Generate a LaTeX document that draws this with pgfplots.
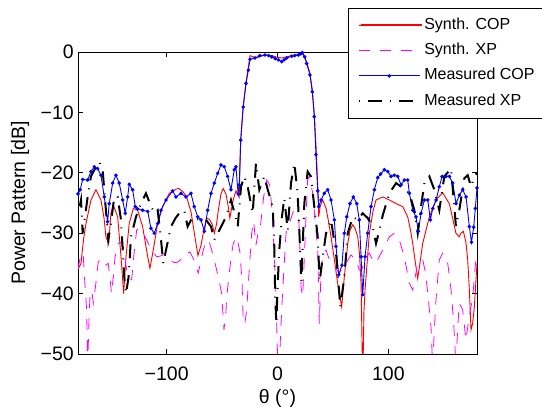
\documentclass[border=0pt]{standalone}
\usepackage{fontspec}
\setmainfont{Liberation Sans}
\usepackage{pgfplots}
\pgfplotsset{compat=1.18}
\definecolor{cRed}{RGB}{255,0,0}
\definecolor{cMag}{RGB}{255,0,255}
\definecolor{cBlue}{RGB}{0,0,255}

\begin{document}
\begin{tikzpicture}
\begin{axis}[
  width=399pt, height=302pt, scale only axis,
  xmin=-180, xmax=180, ymin=-50, ymax=0,
  xtick={-100,0,100}, xticklabels={−100,0,100},
  ytick={-50,-40,-30,-20,-10,0}, yticklabels={−50,−40,−30,−20,−10,0},
  tick align=inside, major tick length=5pt,
  axis line style={line width=0.8pt},
  every tick/.style={black, line width=0.6pt},
  ticklabel style={font=\fontsize{19.5}{22}\selectfont},
  xticklabel style={anchor=base, yshift=-27pt},
  yticklabel style={anchor=east, inner sep=0pt, xshift=-4pt},
  xlabel={θ (°)}, ylabel={Power Pattern [dB]},
  every axis x label/.style={at={(axis description cs:0.5,0)}, anchor=center, yshift=-44pt,
    font=\fontsize{19.5}{22}\selectfont},
  every axis y label/.style={at={(axis description cs:0,0.5)}, rotate=90, anchor=center, yshift=58pt,
    font=\fontsize{19.5}{22}\selectfont},
  legend image code/.code={\draw[#1,mark repeat=2,mark phase=2] plot coordinates {(0pt,0pt) (30.5pt,0pt) (61pt,0pt)};},
  legend style={at={(0.677,1.146)}, anchor=north west, name=leg,
    draw=none, fill=white,
    inner xsep=9.5pt, inner ysep=5.5pt, row sep=2.4pt,
    font=\fontsize{16}{19}\selectfont,
    nodes={inner sep=3.5pt, text height=12pt, text depth=4pt}},
  legend cell align=left,
]
% Synth. COP
\addplot[color=cRed, draw=cRed, line width=0.9pt] coordinates {
(-180,-36) (-177.3,-35.0) (-175,-31) (-172.8,-28.4) (-168.3,-24.5) (-163.8,-22.8)
(-159.3,-24.5) (-156.5,-27.5) (-154.8,-30.6) (-152.3,-31.7) (-150.3,-26.7) (-148.2,-25.3)
(-144.2,-27.3) (-141.2,-33.9) (-138.8,-40.0) (-136.7,-33.9) (-133.8,-28.4) (-130.1,-25.9)
(-126.2,-26.2) (-121.7,-28.9) (-117.1,-33.9) (-115.1,-35.8) (-112.1,-32.8) (-108.1,-28.4)
(-103.6,-25.6) (-97.6,-23.4) (-91.6,-22.7) (-89,-22.6) (-85,-23.2) (-82,-24) (-78,-26.5)
(-74.5,-30.6) (-71.8,-33.7) (-69,-32) (-67,-30) (-64,-27.5) (-61.5,-27.7) (-59,-28.5)
(-57,-30.0) (-55,-28.5) (-53.4,-26.2) (-51,-23.5) (-49,-22.6) (-46.5,-23.5) (-44.5,-25.5)
(-43,-27.5) (-41.5,-26) (-40,-24.5) (-37.5,-23) (-35.5,-23.6) (-34.6,-24) (-34,-20)
(-33.2,-14.6) (-31,-9) (-28.4,-5) (-26.3,-2.5) (-24.8,-0.6) (-22,-0.8) (-18,-0.9)
(-11,-0.5) (-5,-0.6) (0,-0.9) (4,-1.0) (8,-0.8) (13,-0.6) (19,-0.4) (22.4,-0.1)
(26,-1.5) (29.3,-3.5) (31.4,-6.3) (33.2,-10.2) (35.0,-16.5) (36.5,-23) (37.2,-27.3)
(38.5,-25.5) (40.8,-24.5) (43.8,-25.9) (46,-28) (48.3,-30.6) (51,-34) (54.3,-38.3)
(57.9,-42.2) (60.3,-37.2) (63.4,-31.7) (65.5,-29.5) (67.9,-28.6) (70,-29.2) (72.4,-30.6)
(74,-33.5) (75.4,-38.3) (76.9,-55) (78,-43) (79,-39.4) (82.9,-30.0) (86,-26.5) (88.9,-24.5)
(95,-24.0) (100.9,-24.5) (107,-25.1) (113,-25.6) (117.5,-27.3) (120,-29.5) (122,-31.7)
(124.5,-35) (126.5,-37.5) (128.5,-35) (131,-31.7) (137,-27.3) (143,-24.5) (149,-23.3)
(155,-25.1) (158,-27.5) (161,-30) (164,-30.6) (165.5,-30.0) (167.7,-29.7) (170,-31.5)
(171.6,-34.4) (173,-39) (174.6,-46.0) (176,-45) (177.6,-42.2) (180,-35)
};
\addlegendentry{Synth. COP}

% Synth. XP
\addplot[draw=cMag, line width=0.8pt, dash pattern=on 11pt off 10pt] coordinates {
(-180,-36) (-177.3,-33.3) (-175.3,-33.5) (-174,-37.7) (-172.2,-42.7) (-171.3,-52) (-170,-44)
(-169.2,-40.5) (-167.5,-39.5) (-166.2,-41.6) (-164,-38.5) (-161.7,-34.7) (-160,-34.5)
(-157.3,-35.5) (-155,-35.3) (-152.8,-35) (-151,-37.5) (-149.8,-40) (-148,-37) (-146.6,-34)
(-143.7,-31.7) (-141.5,-31.5) (-139.2,-32.2) (-136.1,-36.1) (-133.5,-37.5) (-131.6,-37.7)
(-129.5,-33.5) (-127.1,-29.5) (-125,-29.2) (-122.6,-29.5) (-118.1,-31.1) (-113.5,-32.8)
(-109,-33.9) (-106,-33.8) (-103,-33.6) (-100,-34) (-97,-34.4) (-94,-34.8) (-91,-34.9)
(-88,-34.5) (-85,-33.9) (-82,-33.3) (-79,-33.1) (-76.5,-34) (-74.5,-35) (-71.5,-36.6)
(-69,-34.5) (-67,-32.8) (-63.9,-31.1) (-61.5,-31.5) (-59.4,-32.8) (-57,-34.5) (-54.9,-36.1)
(-52.5,-38) (-50.4,-40) (-48.3,-46) (-46.5,-43) (-45.8,-40.5) (-43.5,-36.6) (-41.5,-33.5)
(-39.9,-31.7) (-36.8,-30.6) (-34,-33) (-32,-38) (-30.9,-44.9) (-29.5,-45) (-27.8,-42.7)
(-25.5,-36) (-23.3,-30) (-21.5,-28) (-19.5,-32) (-17.5,-30) (-15.8,-29.5) (-12.5,-24)
(-9.8,-21.2) (-7,-22) (-5,-26) (-3,-33) (-1.5,-40) (0,-50) (1.6,-52) (3.2,-45) (4.7,-39.4)
(7.7,-30) (10.6,-28.4) (15.2,-25.9) (18.2,-24.5) (19.8,-30) (21.2,-38.9) (22.7,-40.5)
(24,-35) (25.7,-27.3) (27.2,-21.2) (28.7,-20.6) (31.8,-23.4) (34,-28) (36.3,-32.8)
(37.7,-45) (39,-38) (40.8,-33.3) (43.8,-32.8) (46.8,-34.4) (51.3,-35.5) (55.8,-36.6)
(61.8,-35) (66.3,-33.6) (70.8,-34.4) (73.8,-36.1) (76,-36) (78.3,-34.4) (82.9,-33.3)
(87.4,-35) (90,-34.5) (95,-32.8) (100.9,-30.6) (105.4,-30) (109.9,-31.1) (114.4,-33.9)
(119,-38.3) (122,-39.4) (124,-37.5) (126.5,-35) (131,-34.4) (133.5,-36.5) (135.6,-40)
(138.5,-45.5) (140,-52) (141.5,-46) (143,-41) (146,-34.4) (149,-33.3) (153.6,-35)
(156.6,-39.4) (159,-45) (161,-52) (162.5,-46) (164,-41.6) (167.1,-42.7) (170,-47.7)
(173,-43.8) (176.2,-40.5) (179.1,-33.9) (180,-33)
};
\addlegendentry{Synth. XP}

% Measured COP
\addplot[draw=cBlue, line width=0.9pt, mark=*, mark size=1.3pt, mark options={solid, draw=cBlue, fill=cBlue}] coordinates {
(-180,-23.5) (-178,-22.8) (-175.8,-21.1) (-171.3,-21.2) (-168.3,-19.8) (-165.3,-19.0)
(-162.3,-19.3) (-159.3,-20.4) (-156.3,-24.0) (-153.3,-28.1) (-151.8,-25.1) (-148.7,-21.7)
(-145.8,-20.4) (-142.8,-21.7) (-139.7,-24.5) (-137.4,-26.7) (-135.2,-24.0) (-133.8,-21.9)
(-130.7,-22.8) (-128.3,-25.6) (-126.2,-26.0) (-121.7,-26.2) (-117.1,-26.4) (-114.2,-29.2)
(-111.2,-30.0) (-108.1,-28.4) (-105.1,-26.2) (-100.6,-24.5) (-94.6,-23.0) (-91.6,-24.0)
(-87.1,-23.4) (-82.6,-24.0) (-78.1,-23.4) (-75.1,-25.6) (-72.0,-27.3) (-69.0,-27.8)
(-66.0,-29.7) (-63.0,-26.2) (-60.0,-23.4) (-57.0,-21.7) (-54.0,-20.1) (-51.0,-18.7)
(-48.0,-19.0) (-45.0,-20.6) (-42.0,-22.8) (-39.0,-19.5) (-37.5,-19.0) (-35.5,-23.5)
(-34.5,-22.0) (-33.2,-14.6) (-30.9,-9.1) (-28.4,-5.2) (-26.3,-3.0) (-24.8,-1.2)
(-20.3,-1.0) (-16,-0.6) (-11.3,-0.5) (-8,-0.6) (-5.2,-0.8) (-2,-1.1) (0.8,-1.3) (3.8,-1.6)
(6,-1.3) (8.3,-1.0) (12.8,-0.7) (15.5,-0.6) (18.8,-0.5) (21,-0.3) (22.4,-0.1) (24.5,-0.8)
(26.3,-1.9) (29.3,-3.8) (31.4,-6.6) (33.2,-10.7) (34.7,-17) (36.3,-23) (37.2,-25.6)
(39.3,-24.5) (42.2,-23.4) (45.3,-22.8) (48.3,-24.5) (51.3,-27.8) (52.8,-32.2) (55.2,-36.9)
(58.2,-35.3) (60.3,-30.0) (62.5,-27.3) (65.4,-25.1) (68.4,-24.0) (71.5,-25.1) (73.8,-27.8)
(75.4,-33.9) (76.9,-40.2) (79,-33.9) (81.4,-30.0) (84.4,-25.6) (87.4,-22.8) (90.4,-20.8)
(93,-20.2) (96.4,-19.5) (99.5,-19.8) (102.4,-20.6) (105.4,-20.4) (108.5,-20.6) (111.5,-22.0)
(114.4,-21.2) (117.5,-21.2) (119.0,-23.4) (122.0,-26.2) (125.0,-27.3) (127.1,-29.7)
(129.5,-26.7) (132.5,-24.5) (135.6,-24.5) (137.9,-27.8) (140.1,-25.9) (143.1,-24.5)
(146.0,-22.3) (148.5,-20.6) (152.1,-20.6) (155.1,-20.6) (158.1,-21.7) (161.1,-25.1)
(164.1,-23.7) (167.1,-22.8) (170.1,-24.0) (173.1,-28.9) (175,-31.5) (177,-29)
(178.5,-25.9) (180,-22.5)
};
\addlegendentry{Measured COP}

% Measured XP
\addplot[draw=black, line width=2pt, dash pattern=on 1pt off 8pt on 14pt off 8pt] coordinates {
(-180,-27) (-177.3,-24.5) (-175.8,-30) (-173.5,-27) (-171.3,-24) (-168.3,-20.6) (-163.8,-19)
(-160.8,-18.2) (-157.8,-19.5) (-154.8,-26.2) (-152.7,-31.1) (-150.3,-28.4) (-147.3,-24)
(-144.2,-24) (-141.2,-27.8) (-138.3,-37.2) (-136.7,-40) (-134.3,-37.2) (-132.2,-30.6)
(-127.7,-27.3) (-123.2,-25.1) (-118.7,-23.4) (-115.7,-24.8) (-111.2,-26.7) (-108.1,-26.2)
(-105.1,-31.1) (-103,-35) (-100.6,-32.8) (-96.1,-28.9) (-92,-27.5) (-88.6,-26.7)
(-84.1,-26.2) (-81.1,-28.9) (-76.5,-27.3) (-70.6,-27.8) (-64.5,-27.8) (-60,-28.9)
(-57,-31.1) (-52.5,-29.5) (-46.5,-27.3) (-42,-24.5) (-39,-26.5) (-35.9,-28.9) (-32.9,-22.3)
(-30,-20.6) (-26.9,-22.3) (-22.4,-26.7) (-19.4,-18.4) (-16.4,-22.8) (-11.9,-20.6)
(-8.8,-22.8) (-4.3,-25.6) (-2.9,-32.2) (-2,-41) (-1,-45) (0.2,-38.3) (1.6,-32.8) (4,-27.3)
(6.1,-24.2) (9.2,-29.5) (12.2,-21.7) (15.2,-18.4) (18.2,-23.4) (20,-31) (21.5,-38)
(24.2,-25.1) (27.2,-19.8) (30.2,-20.6) (33.2,-25.6) (36.3,-30.6) (38,-38) (40.8,-33.9)
(43.8,-30) (48.3,-27.8) (52.8,-33.3) (56.7,-42.2) (60.3,-37.2) (63.4,-30) (67.9,-27.3)
(72.4,-27.8) (76.9,-26.7) (81.4,-27.5) (85.9,-28.9) (88.9,-31.7) (92,-29.5) (95,-27)
(100.9,-23.4) (107,-21.7) (111.5,-22.3) (119,-23.4) (123.5,-26.2) (126.5,-30) (129.5,-25.6)
(132.5,-21.7) (137,-20.6) (141.5,-22.8) (146,-26.2) (150.5,-20.6) (156.6,-19.3) (161,-28.9)
(164,-26.2) (168.6,-20.9) (171.6,-20.4) (174.6,-22.3) (177.6,-20.6) (180,-20)
};
\addlegendentry{Measured XP}

\coordinate (bl) at (rel axis cs:0,0);
\coordinate (tr) at (rel axis cs:1,1);
\end{axis}
\draw[line width=0.8pt] (leg.south west) rectangle (leg.north east);
% re-stroke the first legend swatch, whose colour is lost inside the legend matrix
\draw[cRed, line width=1.3pt] ([xshift=13pt,yshift=-17pt]leg.north west) -- ++(61pt,0pt);
\pgfresetboundingbox
\path ([xshift=-78pt,yshift=-53pt]bl) rectangle ([xshift=65pt,yshift=52pt]tr);
\end{tikzpicture}
\end{document}
